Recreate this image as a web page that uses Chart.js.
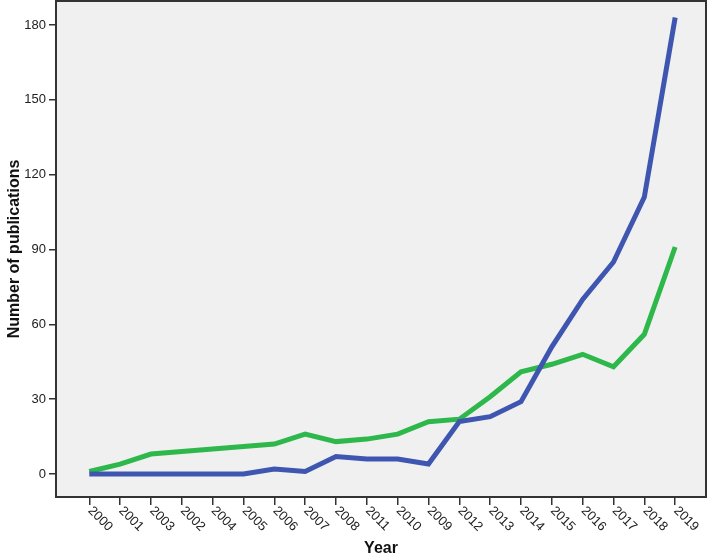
<!DOCTYPE html>
<html>
<head>
<meta charset="utf-8">
<script src="https://cdn.jsdelivr.net/npm/chart.js@4"></script>
<style>
  body { margin: 0; background: #ffffff; }
  #wrap { width: 708px; height: 559px; }
</style>
</head>
<body>
<div id="wrap"><canvas id="chart" width="708" height="559"></canvas></div>
<script>
// order of the years as they appear on the axis
const years = ['2000', '2001', '2003', '2002', '2004', '2005', '2006', '2007', '2008', '2011',
    '2010', '2009', '2012', '2013', '2014', '2015', '2016', '2017', '2018', '2019'];
const blueValues = [0, 0, 0, 0, 0, 0, 2, 1, 7, 6, 6, 4, 21, 23, 29, 51, 70, 85, 111, 183];
const greenValues = [1, 4, 8, 9, 10, 11, 12, 16, 13, 14, 16, 21, 22, 31, 41, 44, 48, 43, 56, 91];
const yTicks = [0, 30, 60, 90, 120, 150, 180];

const blueColour = '#3f56b0';
const greenColour = '#2eb84b';

function toPoints(values) {
    return values.map((v, i) => ({ x: i, y: v }));
}

// grey plot background and the frame around it
const plotFrame = {
    id: 'plotFrame',
    beforeDraw(chart) {
        const { ctx, chartArea } = chart;
        ctx.save();
        ctx.fillStyle = '#f0f0f0';
        ctx.fillRect(chartArea.left, chartArea.top, chartArea.right - chartArea.left, chartArea.bottom - chartArea.top);
        ctx.restore();
    },
    afterDraw(chart) {
        const { ctx, chartArea } = chart;
        ctx.save();
        ctx.strokeStyle = '#333333';
        ctx.lineWidth = 2;
        ctx.strokeRect(chartArea.left, chartArea.top, chartArea.right - chartArea.left, chartArea.bottom - chartArea.top);

        // x labels, slanted down to the right from each tick
        const xScale = chart.scales.x;
        ctx.fillStyle = '#222222';
        ctx.font = '13px "Liberation Sans", Arial, sans-serif';
        ctx.textAlign = 'left';
        ctx.textBaseline = 'middle';
        for (let i = 0; i < years.length; i++) {
            const px = xScale.getPixelForValue(i);
            ctx.save();
            ctx.translate(px, chartArea.bottom + 11);
            ctx.rotate(Math.PI / 4);
            ctx.fillText(years[i], 1, 0);
            ctx.restore();
        }
        ctx.restore();
    }
};

new Chart(document.getElementById('chart'), {
    type: 'line',
    data: {
        datasets: [{
            label: 'blue',
            data: toPoints(blueValues),
            borderColor: blueColour,
            borderWidth: 5,
            pointRadius: 0,
            tension: 0
        }, {
            label: 'green',
            data: toPoints(greenValues),
            borderColor: greenColour,
            borderWidth: 5,
            pointRadius: 0,
            tension: 0
        }]
    },
    options: {
        responsive: false,
        animation: false,
        layout: { padding: { top: 1, right: 2 } },
        plugins: {
            legend: { display: false },
            tooltip: { enabled: false }
        },
        scales: {
            x: {
                type: 'linear',
                min: -1.08,
                max: 20.0,
                afterBuildTicks: (scale) => {
                    scale.ticks = years.map((y, i) => ({ value: i }));
                },
                afterFit: (scale) => {
                    scale.height = 62;
                    scale.paddingLeft = 0;
                    scale.paddingRight = 0;
                },
                ticks: { display: false },
                grid: { drawOnChartArea: false, drawTicks: true, tickLength: 8, color: '#333333', lineWidth: 1.5 },
                border: { display: false },
                title: {
                    display: true,
                    text: 'Year',
                    color: '#111111',
                    font: { family: '"Liberation Sans", Arial, sans-serif', size: 16, weight: 'bold' },
                    padding: { top: 0, bottom: 1 }
                }
            },
            y: {
                min: -9.2,
                max: 189.6,
                afterBuildTicks: (scale) => {
                    scale.ticks = yTicks.map(v => ({ value: v }));
                },
                afterFit: (scale) => {
                    scale.width = 56;
                    scale.paddingTop = 0;
                    scale.paddingBottom = 0;
                },
                ticks: {
                    color: '#222222',
                    padding: 3,
                    font: { family: '"Liberation Sans", Arial, sans-serif', size: 13 }
                },
                grid: { drawOnChartArea: false, drawTicks: true, tickLength: 7, color: '#333333', lineWidth: 1.5 },
                border: { display: false },
                title: {
                    display: true,
                    text: 'Number of publications',
                    color: '#111111',
                    font: { family: '"Liberation Sans", Arial, sans-serif', size: 16, weight: 'bold' },
                    padding: { top: 5, bottom: 0 }
                }
            }
        }
    },
    plugins: [plotFrame]
});
</script>
</body>
</html>
